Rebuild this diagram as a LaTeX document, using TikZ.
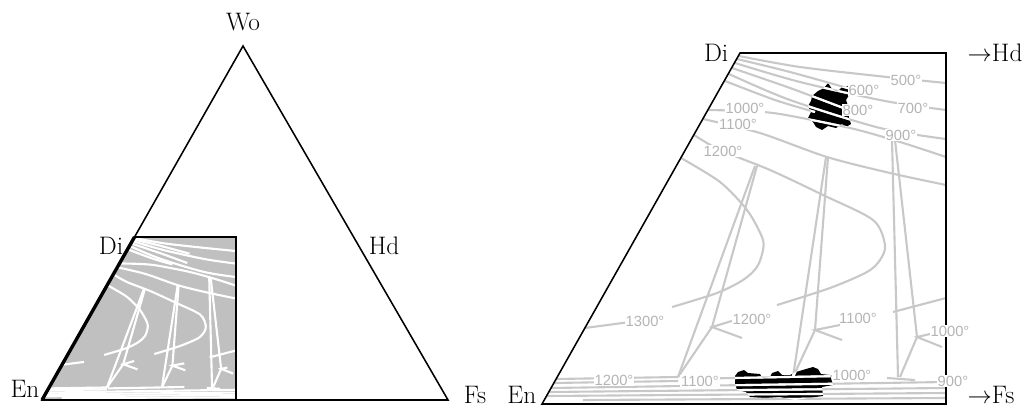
\documentclass[tikz,border=0pt]{standalone}
\usepackage{fontspec}
\newfontfamily\degfont{Liberation Sans}
\usetikzlibrary{positioning}

\definecolor{isogray}{RGB}{200,200,200}
\definecolor{fillgray}{RGB}{192,192,192}
\definecolor{labgray}{RGB}{180,180,180}

\tikzset{
  vlabel/.style={font=\fontsize{18}{20}\selectfont, inner sep=1pt},
  tlabel/.style={font=\degfont\fontsize{10.5}{11}\selectfont, text=labgray, fill=white, inner sep=0.5pt},
  frame/.style={line width=1.1pt},
  isoline/.style={isogray, line width=1.5pt},
}

% isotherms and tie lines, in the coordinates of the enlarged part
\newcommand{\isolines}{%
  \draw[isoline] plot[smooth] coordinates {(739,56) (800,67) (887,77) (946,83)};
  \draw[isoline] plot[smooth] coordinates {(737,59) (790,72) (851,89)};
  \draw[isoline] plot[smooth] coordinates {(735,63) (800,82) (885,101) (946,110)};
  \draw[isoline] plot[smooth] coordinates {(732,68) (790,88) (846,109)};
  \draw[isoline] plot[smooth] coordinates {(729,74) (790,100) (880,128) (946,139)};
  \draw[isoline] plot[smooth] coordinates {(725,81) (775,100) (815,112)};
  \draw[isoline] plot[smooth] coordinates {(708,110) (745,111) (780,114) (850,128) (900,142) (946,157)};
  \draw[isoline] plot[smooth] coordinates {(703,119) (760,133) (827,157) (890,173) (946,185)};
  \draw[isoline] plot[smooth] coordinates {(694,135) (720,150) (770,170) (823,195) (873,220) (885,245)
                                           (880,260) (867,272) (830,288) (777,305)};
  \draw[isoline] plot[smooth] coordinates {(681,158) (720,182) (747,210) (762,237) (763,250)
                                           (757,267) (743,280) (717,293) (672,307)};
  % tie lines
  \draw[isoline] (757,166) -- (712,327) -- (678,377);
  \draw[isoline] (755,166) -- (678,377);
  \draw[isoline] (735,320) -- (712,327) -- (742,338);
  \draw[isoline] (828,157) -- (815,330) -- (793,377);
  \draw[isoline] (826,157) -- (793,377);
  \draw[isoline] (840,325) -- (815,330) -- (842,340);
  \draw[isoline] (895,140) -- (917,337) -- (900,377);
  \draw[isoline] (892,140) -- (898,377);
  \draw[isoline] (930,334) -- (917,337) -- (942,347);
  \draw[isoline] (887,378) -- (915,380);
  \draw[isoline] (893,312) -- (946,298);
  \draw[isoline] (585,328) -- (630,322);
  % near the En-Fs side
  \draw[isoline] (556,379) -- (678,377);
  \draw[isoline] (553,383) -- (678,381);
  \draw[isoline] (680,379) -- (840,376);
  \draw[isoline] (551,388) -- (946,382);
  \draw[isoline] (548,392) -- (946,388);
  \draw[isoline] (546,396) -- (946,393);
  \draw[isoline] (583,400) -- (946,398);
}

\newcommand{\blobtop}{(812,96) -- (818,91) -- (824,88) -- (828,83) -- (832,89) -- (837,92) -- (842,87)
  -- (848,86) -- (849,95) -- (846,100) -- (848,106) -- (849,118) -- (851,124) -- (846,127)
  -- (842,124) -- (836,128) -- (828,126) -- (822,130) -- (816,127) -- (813,122) -- (808,118)
  -- (811,112) -- (808,106) -- (811,101) -- cycle}
\newcommand{\blobbottom}{(735,376) -- (738,372) -- (744,370) -- (748,373) -- (760,374) -- (762,378)
  -- (770,377) -- (772,373) -- (778,371) -- (782,375) -- (790,375) -- (796,372) -- (806,369)
  -- (813,367) -- (818,369) -- (821,374) -- (830,375) -- (833,385) -- (822,387) -- (823,396)
  -- (808,398) -- (795,400) -- (780,397) -- (765,398) -- (750,397) -- (746,392) -- (737,390)
  -- (735,383) -- cycle}

\begin{document}
\begin{tikzpicture}[x=0.25mm, y=-0.25mm]
    \useasboundingbox (0,0) rectangle (1026,408);

    % --- triangle Wo-En-Fs ---
    \coordinate (Wo) at (243,46);
    \coordinate (En) at (42,400);
    \coordinate (Fs) at (448,400);
    \coordinate (Di) at (134.5,237);
    \coordinate (DiC) at (236,237);
    \coordinate (EnC) at (236,400);

    \begin{scope}
        \clip (En) -- (Di) -- (DiC) -- (EnC) -- cycle;
        \fill[fillgray] (En) -- (Di) -- (DiC) -- (EnC) -- cycle;
        \begin{scope}[shift={(42,400)}, xscale=0.4777, yscale=0.4644, shift={(-542,-404)},
                      isoline/.style={white, line width=1.5pt}]
            \isolines
        \end{scope}
    \end{scope}
    \draw[frame] (Wo) -- (En) -- (Fs) -- cycle;
    \draw[frame] (Di) -- (DiC) -- (EnC);
    \draw[line width=2.4pt] (En) -- (Di);

    \node[vlabel] (woLab) at (243,22) {Wo};
    \node[vlabel] (diLab) at (111,246) {Di};
    \node[vlabel] (hdLab) at (384,246) {Hd};
    \node[vlabel] (enLab) at (25,389) {En};
    \node[vlabel] (fsLab) at (475,395) {Fs};

    % --- enlarged part ---
    \coordinate (EnR) at (542,404);
    \coordinate (DiR) at (740,53);
    \coordinate (HdR) at (946,53);
    \coordinate (FsR) at (946,404);

    \fill \blobtop;
    \fill \blobbottom;
    \isolines
    \begin{scope}[isoline/.style={white, line width=1.5pt}]
        \clip \blobtop;
        \isolines
    \end{scope}
    \begin{scope}[isoline/.style={white, line width=1.5pt}]
        \clip \blobbottom;
        \isolines
    \end{scope}
    \draw[frame] (FsR) -- (EnR) -- (DiR) -- (HdR) -- cycle;

    \node[tlabel] (t500) at (906,80) {500°};
    \node[tlabel] (t600) at (864,90) {600°};
    \node[tlabel] (t700) at (913,108) {700°};
    \node[tlabel] (t800) at (858,110) {800°};
    \node[tlabel] (t900) at (901,135) {900°};
    \node[tlabel] (t1000a) at (745,108) {1000°};
    \node[tlabel] (t1100a) at (738,124) {1100°};
    \node[tlabel] (t1200a) at (723,151) {1200°};
    \node[tlabel] (t1300) at (645,321) {1300°};
    \node[tlabel] (t1200b) at (752,319) {1200°};
    \node[tlabel] (t1100b) at (858,318) {1100°};
    \node[tlabel] (t1000b) at (950,331) {1000°};
    \node[tlabel] (t1200c) at (614,380) {1200°};
    \node[tlabel] (t1100c) at (700,381) {1100°};
    \node[tlabel] (t1000c) at (852,375) {1000°};
    \node[tlabel] (t900b) at (953,381) {900°};

    \node[vlabel, left=2.5mm of DiR] (diRLab) {Di};
    \node[vlabel, left=1mm of EnR, yshift=2.2mm] (enRLab) {En};
    \node[vlabel, right=5mm of HdR] (hdRLab) {$\rightarrow$Hd};
    \node[vlabel, right=5mm of FsR, yshift=2.2mm] (fsRLab) {$\rightarrow$Fs};
\end{tikzpicture}
\end{document}
